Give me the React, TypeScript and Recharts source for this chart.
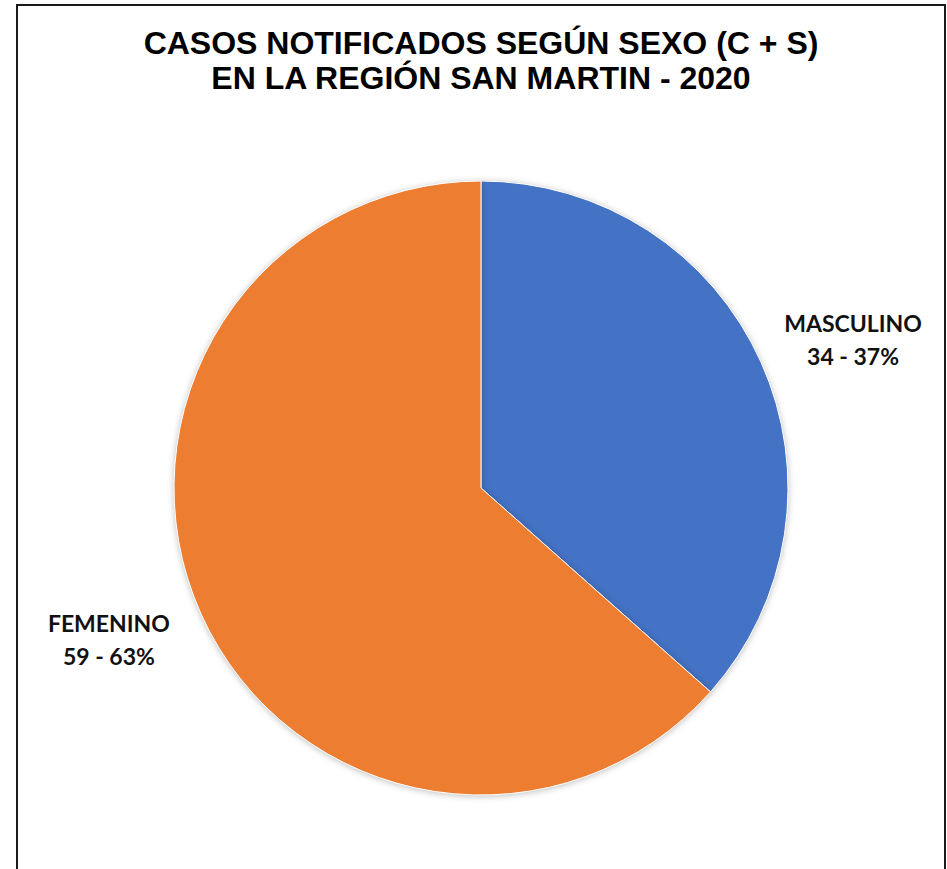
import { Pie, PieChart, Cell } from "recharts";

const sexes = ["MASCULINO", "FEMENINO"];
const cases = [34, 59];
const percents = ["37%", "63%"];
const colors = ["#4472C4", "#ED7D31"];

const data = sexes.map((name, i) => ({
  name,
  value: cases[i],
  pct: percents[i],
}));

const RAD = Math.PI / 180;

const renderLabel = (props: any) => {
  const { cx, cy, midAngle, outerRadius, index } = props;
  const r = outerRadius + 94;
  const a = (midAngle - 2.3) * RAD;
  const x = cx + r * Math.cos(a);
  const y = cy - r * Math.sin(a);
  const d = data[index];
  return (
    <text
      x={x}
      y={y}
      textAnchor="middle"
      fill="#111"
      fontFamily="Lato, 'Open Sans', sans-serif"
      fontWeight="bold"
      fontSize={23}
    >
      <tspan x={x} dy={-6}>
        {d.name}
      </tspan>
      <tspan x={x} dy={33}>
        {`${d.value} - ${d.pct}`}
      </tspan>
    </text>
  );
};

export default function App() {
  return (
    <div
      style={{
        position: "absolute",
        left: 16,
        top: 4,
        width: 930,
        height: 880,
        border: "2px solid #1a1a1a",
        boxSizing: "border-box",
        background: "#fff",
      }}
    >
      <style>{`html, body { margin: 0; overflow: hidden; }
.recharts-pie-sector path { filter: drop-shadow(0px 1px 3px rgba(0,0,0,0.25)); }`}</style>
      <div
        style={{
          position: "absolute",
          top: 20,
          left: 0,
          width: 926,
          textAlign: "center",
          fontFamily: "'Liberation Sans', Arial, sans-serif",
          fontWeight: "bold",
          fontSize: 32,
          lineHeight: "35px",
          color: "#000",
        }}
      >
        CASOS NOTIFICADOS SEGÚN SEXO (C + S)
        <br />
        EN LA REGIÓN SAN MARTIN - 2020
      </div>
      <PieChart
        width={926}
        height={876}
        margin={{ top: 0, right: 0, bottom: 0, left: 0 }}
        style={{ position: "absolute", top: 0, left: 0 }}
      >
        <Pie
          data={data}
          dataKey="value"
          nameKey="name"
          cx={463}
          cy={482}
          outerRadius={307}
          startAngle={90}
          endAngle={-270}
          stroke="#fff"
          strokeWidth={1}
          label={renderLabel}
          labelLine={false}
          isAnimationActive={false}
        >
          {data.map((d, i) => (
            <Cell key={d.name} fill={colors[i]} />
          ))}
        </Pie>
      </PieChart>
    </div>
  );
}
